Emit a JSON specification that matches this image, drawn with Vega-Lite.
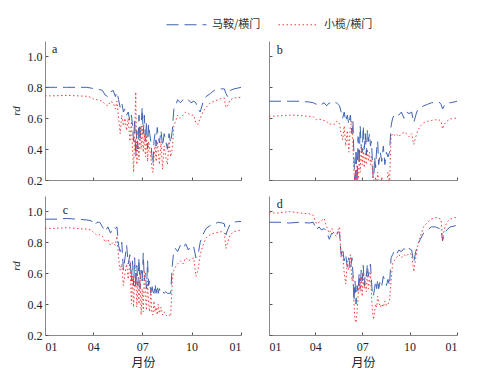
{
  "$schema": "https://vega.github.io/schema/vega-lite/v6.json",
  "padding": {"left": 10, "top": 4, "right": 5, "bottom": 5},
  "config": {
    "font": "Liberation Serif",
    "view": {"stroke": null},
    "axis": {"grid": false, "domainColor": "#888888", "domainWidth": 1, "tickColor": "#555555", "labelColor": "#222222", "labelFont": "Liberation Serif", "labelFontSize": 12, "labelOverlap": false, "titleFontWeight": "normal", "titleColor": "#222222"},
    "legend": {"orient": "none", "legendX": 121, "legendY": -37, "direction": "horizontal", "symbolType": "stroke", "symbolSize": 1600, "symbolStrokeWidth": 1, "labelFont": "Noto Sans CJK SC", "labelFontSize": 11, "labelColor": "#333333", "columnPadding": 15, "labelOffset": 5}
  },
  "data": {"values": [
    {"t":"2013-01-01","am":0.80,"ax":0.745,"bm":0.71,"bx":0.612,"cm":0.95,"cx":0.89,"dm":0.93,"dx":0.99},
    {"t":"2013-01-20","am":0.80,"ax":0.745,"bm":0.71,"bx":0.615,"cm":0.95,"cx":0.89,"dm":0.93,"dx":0.99},
    {"t":"2013-02-10","am":0.80,"ax":0.748,"bm":0.71,"bx":0.62,"cm":0.955,"cx":0.895,"dm":0.925,"dx":1.0},
    {"t":"2013-03-01","am":0.80,"ax":0.745,"bm":0.71,"bx":0.618,"cm":0.95,"cx":0.89,"dm":0.93,"dx":0.99},
    {"t":"2013-03-20","am":0.80,"ax":0.742,"bm":0.705,"bx":0.612,"cm":0.945,"cx":0.885,"dm":0.925,"dx":0.985},
    {"t":"2013-03-28","am":0.795,"ax":0.735,"bm":0.70,"bx":0.61,"cm":0.94,"cx":0.88,"dm":0.93,"dx":0.975},
    {"t":"2013-04-03","am":0.79,"ax":0.72,"bm":0.69,"bx":0.59,"cm":0.91,"cx":0.86,"dm":0.88,"dx":0.92},
    {"t":"2013-04-08","am":0.785,"ax":0.72,"bm":0.70,"bx":0.595,"cm":0.93,"cx":0.845,"dm":0.90,"dx":0.93},
    {"t":"2013-04-13","am":0.785,"ax":0.715,"bm":0.69,"bx":0.59,"cm":0.93,"cx":0.85,"dm":0.88,"dx":0.94},
    {"t":"2013-04-18","am":0.78,"ax":0.71,"bm":0.70,"bx":0.585,"cm":0.90,"cx":0.84,"dm":0.89,"dx":0.955},
    {"t":"2013-04-23","am":0.75,"ax":0.69,"bm":0.68,"bx":0.58,"cm":0.87,"cx":0.80,"dm":0.87,"dx":0.90},
    {"t":"2013-04-28","am":0.74,"ax":0.68,"bm":0.70,"bx":0.56,"cm":0.90,"cx":0.82,"dm":0.82,"dx":0.86},
    {"t":"2013-05-03","am":0.77,"ax":0.71,"bm":0.69,"bx":0.565,"cm":0.86,"cx":0.78,"dm":0.86,"dx":0.89},
    {"t":"2013-05-08","am":0.78,"ax":0.70,"bm":0.70,"bx":0.56,"cm":0.90,"cx":0.80,"dm":0.85,"dx":0.85},
    {"t":"2013-05-12","am":0.74,"ax":0.66,"bm":0.70,"bx":0.58,"cm":0.89,"cx":0.78,"dm":0.84,"dx":0.84},
    {"t":"2013-05-15","am":0.77,"ax":0.71,"bm":0.69,"bx":0.58,"cm":0.90,"cx":0.84,"dm":0.87,"dx":0.88},
    {"t":"2013-05-18","am":0.72,"ax":0.60,"bm":0.68,"bx":0.56,"cm":0.78,"cx":0.70,"dm":0.86,"dx":0.90},
    {"t":"2013-05-21","am":0.67,"ax":0.50,"bm":0.64,"bx":0.50,"cm":0.74,"cx":0.62,"dm":0.72,"dx":0.70},
    {"t":"2013-05-24","am":0.70,"ax":0.62,"bm":0.60,"bx":0.46,"cm":0.80,"cx":0.66,"dm":0.76,"dx":0.74},
    {"t":"2013-05-27","am":0.64,"ax":0.55,"bm":0.64,"bx":0.55,"cm":0.62,"cx":0.52,"dm":0.68,"dx":0.60},
    {"t":"2013-05-30","am":0.66,"ax":0.60,"bm":0.58,"bx":0.42,"cm":0.70,"cx":0.60,"dm":0.72,"dx":0.53},
    {"t":"2013-06-02","am":0.62,"ax":0.52,"bm":0.62,"bx":0.52,"cm":0.78,"cx":0.66,"dm":0.64,"dx":0.68},
    {"t":"2013-06-05","am":0.64,"ax":0.60,"bm":0.56,"bx":0.38,"cm":0.66,"cx":0.56,"dm":0.70,"dx":0.62},
    {"t":"2013-06-08","am":0.58,"ax":0.45,"bm":0.62,"bx":0.55,"cm":0.72,"cx":0.68,"dm":0.62,"dx":0.72},
    {"t":"2013-06-11","am":0.62,"ax":0.58,"bm":0.50,"bx":0.58,"cm":0.55,"cx":0.40,"dm":0.70,"dx":0.55},
    {"t":"2013-06-13","am":0.55,"ax":0.40,"bm":0.58,"bx":0.42,"cm":0.68,"cx":0.58,"dm":0.60,"dx":0.58},
    {"t":"2013-06-15","am":0.45,"ax":0.25,"bm":0.35,"bx":0.25,"cm":0.52,"cx":0.38,"dm":0.42,"dx":0.40},
    {"t":"2013-06-17","am":0.60,"ax":0.50,"bm":0.15,"bx":0.15,"cm":0.70,"cx":0.55,"dm":0.55,"dx":0.30},
    {"t":"2013-06-19","am":0.35,"ax":0.77,"bm":0.40,"bx":0.15,"cm":0.50,"cx":0.62,"dm":0.40,"dx":0.28},
    {"t":"2013-06-21","am":0.52,"ax":0.30,"bm":0.18,"bx":0.30,"cm":0.65,"cx":0.38,"dm":0.52,"dx":0.35},
    {"t":"2013-06-23","am":0.40,"ax":0.45,"bm":0.48,"bx":0.15,"cm":0.52,"cx":0.55,"dm":0.48,"dx":0.45},
    {"t":"2013-06-25","am":0.62,"ax":0.33,"bm":0.30,"bx":0.35,"cm":0.70,"cx":0.40,"dm":0.60,"dx":0.55},
    {"t":"2013-06-27","am":0.45,"ax":0.55,"bm":0.55,"bx":0.25,"cm":0.50,"cx":0.60,"dm":0.50,"dx":0.48},
    {"t":"2013-06-29","am":0.55,"ax":0.40,"bm":0.42,"bx":0.42,"cm":0.62,"cx":0.33,"dm":0.62,"dx":0.58},
    {"t":"2013-07-01","am":0.67,"ax":0.55,"bm":0.38,"bx":0.30,"cm":0.55,"cx":0.50,"dm":0.55,"dx":0.45},
    {"t":"2013-07-03","am":0.50,"ax":0.38,"bm":0.55,"bx":0.40,"cm":0.73,"cx":0.35,"dm":0.65,"dx":0.60},
    {"t":"2013-07-05","am":0.62,"ax":0.50,"bm":0.40,"bx":0.28,"cm":0.55,"cx":0.62,"dm":0.52,"dx":0.50},
    {"t":"2013-07-07","am":0.45,"ax":0.35,"bm":0.50,"bx":0.38,"cm":0.60,"cx":0.45,"dm":0.60,"dx":0.55},
    {"t":"2013-07-09","am":0.58,"ax":0.48,"bm":0.36,"bx":0.30,"cm":0.50,"cx":0.36,"dm":0.58,"dx":0.48},
    {"t":"2013-07-11","am":0.40,"ax":0.32,"bm":0.52,"bx":0.40,"cm":0.68,"cx":0.55,"dm":0.66,"dx":0.62},
    {"t":"2013-07-13","am":0.56,"ax":0.45,"bm":0.45,"bx":0.32,"cm":0.52,"cx":0.40,"dm":0.58,"dx":0.50},
    {"t":"2013-07-15","am":0.50,"ax":0.40,"bm":0.50,"bx":0.38,"cm":0.55,"cx":0.35,"dm":0.62,"dx":0.55},
    {"t":"2013-07-17","am":0.45,"ax":0.35,"bm":0.42,"bx":0.30,"cm":0.47,"cx":0.50,"dm":0.66,"dx":0.60},
    {"t":"2013-07-19","am":0.36,"ax":0.28,"bm":0.45,"bx":0.35,"cm":0.53,"cx":0.34,"dm":0.55,"dx":0.45},
    {"t":"2013-07-21","am":0.30,"ax":0.25,"bm":0.30,"bx":0.25,"cm":0.48,"cx":0.33,"dm":0.45,"dx":0.35},
    {"t":"2013-07-23","am":0.45,"ax":0.35,"bm":0.15,"bx":0.18,"cm":0.47,"cx":0.42,"dm":0.46,"dx":0.30},
    {"t":"2013-07-25","am":0.50,"ax":0.42,"bm":0.35,"bx":0.15,"cm":0.53,"cx":0.35,"dm":0.50,"dx":0.35},
    {"t":"2013-07-27","am":0.42,"ax":0.32,"bm":0.28,"bx":0.22,"cm":0.47,"cx":0.38,"dm":0.55,"dx":0.40},
    {"t":"2013-07-29","am":0.54,"ax":0.45,"bm":0.40,"bx":0.15,"cm":0.52,"cx":0.33,"dm":0.50,"dx":0.38},
    {"t":"2013-07-31","am":0.48,"ax":0.38,"bm":0.45,"bx":0.25,"cm":0.47,"cx":0.40,"dm":0.56,"dx":0.45},
    {"t":"2013-08-02","am":0.44,"ax":0.30,"bm":0.30,"bx":0.18,"cm":0.50,"cx":0.34,"dm":0.50,"dx":0.42},
    {"t":"2013-08-05","am":0.52,"ax":0.45,"bm":0.38,"bx":0.15,"cm":0.47,"cx":0.38,"dm":0.55,"dx":0.38},
    {"t":"2013-08-08","am":0.42,"ax":0.27,"bm":0.32,"bx":0.22,"cm":0.48,"cx":0.33,"dm":0.52,"dx":0.40},
    {"t":"2013-08-11","am":0.50,"ax":0.42,"bm":0.42,"bx":0.15,"cm":0.47,"cx":0.35,"dm":0.58,"dx":0.38},
    {"t":"2013-08-14","am":0.45,"ax":0.35,"bm":0.30,"bx":0.20,"cm":0.48,"cx":0.33,"dm":0.55,"dx":0.42},
    {"t":"2013-08-17","am":0.40,"ax":0.30,"bm":0.38,"bx":0.15,"cm":0.47,"cx":0.32,"dm":0.52,"dx":0.39},
    {"t":"2013-08-20","am":0.50,"ax":0.45,"bm":0.35,"bx":0.25,"cm":0.47,"cx":0.33,"dm":0.56,"dx":0.40},
    {"t":"2013-08-23","am":0.44,"ax":0.35,"bm":0.38,"bx":0.18,"cm":0.47,"cx":0.32,"dm":0.52,"dx":0.42},
    {"t":"2013-08-26","am":0.52,"ax":0.40,"bm":0.55,"bx":0.48,"cm":0.65,"cx":0.55,"dm":0.70,"dx":0.55},
    {"t":"2013-08-29","am":0.66,"ax":0.55,"bm":0.60,"bx":0.50,"cm":0.75,"cx":0.62,"dm":0.72,"dx":0.66},
    {"t":"2013-09-01","am":0.68,"ax":0.58,"bm":0.62,"bx":0.49,"cm":0.76,"cx":0.64,"dm":0.74,"dx":0.68},
    {"t":"2013-09-05","am":0.72,"ax":0.62,"bm":0.63,"bx":0.50,"cm":0.74,"cx":0.66,"dm":0.72,"dx":0.70},
    {"t":"2013-09-10","am":0.70,"ax":0.60,"bm":0.62,"bx":0.48,"cm":0.78,"cx":0.68,"dm":0.75,"dx":0.72},
    {"t":"2013-09-15","am":0.72,"ax":0.62,"bm":0.64,"bx":0.50,"cm":0.76,"cx":0.66,"dm":0.74,"dx":0.70},
    {"t":"2013-09-20","am":0.73,"ax":0.64,"bm":0.60,"bx":0.51,"cm":0.79,"cx":0.70,"dm":0.76,"dx":0.72},
    {"t":"2013-09-25","am":0.72,"ax":0.63,"bm":0.64,"bx":0.50,"cm":0.75,"cx":0.68,"dm":0.74,"dx":0.71},
    {"t":"2013-09-30","am":0.70,"ax":0.62,"bm":0.63,"bx":0.48,"cm":0.78,"cx":0.69,"dm":0.76,"dx":0.73},
    {"t":"2013-10-05","am":0.71,"ax":0.62,"bm":0.64,"bx":0.50,"cm":0.77,"cx":0.70,"dm":0.75,"dx":0.72},
    {"t":"2013-10-09","am":0.70,"ax":0.57,"bm":0.57,"bx":0.43,"cm":0.70,"cx":0.58,"dm":0.67,"dx":0.61},
    {"t":"2013-10-13","am":0.66,"ax":0.56,"bm":0.62,"bx":0.48,"cm":0.72,"cx":0.62,"dm":0.74,"dx":0.70},
    {"t":"2013-10-17","am":0.64,"ax":0.60,"bm":0.66,"bx":0.52,"cm":0.80,"cx":0.72,"dm":0.79,"dx":0.78},
    {"t":"2013-10-22","am":0.70,"ax":0.64,"bm":0.67,"bx":0.55,"cm":0.85,"cx":0.78,"dm":0.82,"dx":0.84},
    {"t":"2013-10-28","am":0.74,"ax":0.67,"bm":0.68,"bx":0.57,"cm":0.89,"cx":0.83,"dm":0.86,"dx":0.90},
    {"t":"2013-11-05","am":0.76,"ax":0.70,"bm":0.69,"bx":0.58,"cm":0.91,"cx":0.85,"dm":0.88,"dx":0.93},
    {"t":"2013-11-12","am":0.78,"ax":0.71,"bm":0.70,"bx":0.585,"cm":0.92,"cx":0.86,"dm":0.90,"dx":0.95},
    {"t":"2013-11-20","am":0.79,"ax":0.72,"bm":0.70,"bx":0.59,"cm":0.93,"cx":0.865,"dm":0.90,"dx":0.96},
    {"t":"2013-11-27","am":0.79,"ax":0.73,"bm":0.705,"bx":0.59,"cm":0.925,"cx":0.87,"dm":0.89,"dx":0.955},
    {"t":"2013-12-01","am":0.79,"ax":0.73,"bm":0.69,"bx":0.58,"cm":0.92,"cx":0.86,"dm":0.89,"dx":0.95},
    {"t":"2013-12-04","am":0.76,"ax":0.67,"bm":0.66,"bx":0.53,"cm":0.85,"cx":0.76,"dm":0.81,"dx":0.81},
    {"t":"2013-12-07","am":0.74,"ax":0.68,"bm":0.68,"bx":0.56,"cm":0.88,"cx":0.80,"dm":0.85,"dx":0.88},
    {"t":"2013-12-12","am":0.78,"ax":0.72,"bm":0.70,"bx":0.58,"cm":0.92,"cx":0.85,"dm":0.88,"dx":0.93},
    {"t":"2013-12-19","am":0.79,"ax":0.73,"bm":0.70,"bx":0.595,"cm":0.93,"cx":0.87,"dm":0.90,"dx":0.95},
    {"t":"2013-12-26","am":0.795,"ax":0.735,"bm":0.705,"bx":0.60,"cm":0.935,"cx":0.875,"dm":0.905,"dx":0.96},
    {"t":"2014-01-01","am":0.80,"ax":0.735,"bm":0.71,"bx":0.60,"cm":0.935,"cx":0.88,"dm":0.91,"dx":0.96}
  ]},
  "columns": 2,
  "bounds": "flush",
  "spacing": {"row": 16, "column": 28},
  "concat": [
    {
      "width": 196, "height": 139,
      "layer": [
        {"mark": {"type": "line", "clip": true, "strokeWidth": 1}, "encoding": {"x": {"field": "t", "type": "temporal", "scale": {"type": "utc", "domain": [{"year": 2013, "month": 1, "date": 1, "utc": true}, {"year": 2014, "month": 1, "date": 1, "utc": true}]}, "axis": {"values": [{"year": 2013, "month": 1, "date": 1, "utc": true}, {"year": 2013, "month": 4, "date": 1, "utc": true}, {"year": 2013, "month": 7, "date": 1, "utc": true}, {"year": 2013, "month": 10, "date": 1, "utc": true}, {"year": 2014, "month": 1, "date": 1, "utc": true}], "labels": false, "tickSize": -3, "title": null}}, "y": {"field": "am", "type": "quantitative", "scale": {"domain": [0.2, 1.1], "nice": false, "zero": false}, "axis": {"tickCount": 5, "format": ".1f", "labelOverlap": false, "tickSize": -3, "labelPadding": 6, "title": "rd", "titleFontStyle": "italic", "titleFontSize": 11, "titlePadding": 6}}, "color": {"datum": "马鞍/横门", "scale": {"domain": ["马鞍/横门", "小榄/横门"], "range": ["#3F62B0", "#F03C3C"]}, "title": null}, "strokeDash": {"datum": "马鞍/横门", "scale": {"domain": ["马鞍/横门", "小榄/横门"], "range": [[12, 6], [1.5, 2.5]]}, "title": null}}},
        {"mark": {"type": "line", "clip": true, "strokeWidth": 1}, "encoding": {"x": {"field": "t", "type": "temporal"}, "y": {"field": "ax", "type": "quantitative"}, "color": {"datum": "小榄/横门", "title": null}, "strokeDash": {"datum": "小榄/横门", "title": null}}},
        {"transform": [{"aggregate": [{"op": "count", "as": "n"}]}], "mark": {"type": "text", "align": "left", "baseline": "middle", "fontSize": 12, "color": "#222222"}, "encoding": {"x": {"datum": {"year": 2013, "month": 1, "date": 14, "utc": true}, "type": "temporal"}, "y": {"datum": 1.05, "type": "quantitative"}, "text": {"value": "a"}}}
      ]
    },
    {
      "width": 188, "height": 139,
      "layer": [
        {"mark": {"type": "line", "clip": true, "strokeWidth": 1}, "encoding": {"x": {"field": "t", "type": "temporal", "scale": {"type": "utc", "domain": [{"year": 2013, "month": 1, "date": 1, "utc": true}, {"year": 2014, "month": 1, "date": 1, "utc": true}]}, "axis": {"values": [{"year": 2013, "month": 1, "date": 1, "utc": true}, {"year": 2013, "month": 4, "date": 1, "utc": true}, {"year": 2013, "month": 7, "date": 1, "utc": true}, {"year": 2013, "month": 10, "date": 1, "utc": true}, {"year": 2014, "month": 1, "date": 1, "utc": true}], "labels": false, "tickSize": -3, "title": null}}, "y": {"field": "bm", "type": "quantitative", "scale": {"domain": [0.2, 1.1], "nice": false, "zero": false}, "axis": {"tickCount": 5, "labels": false, "tickSize": -3, "title": null}}, "color": {"datum": "马鞍/横门", "title": null}, "strokeDash": {"datum": "马鞍/横门", "title": null}}},
        {"mark": {"type": "line", "clip": true, "strokeWidth": 1}, "encoding": {"x": {"field": "t", "type": "temporal"}, "y": {"field": "bx", "type": "quantitative"}, "color": {"datum": "小榄/横门", "title": null}, "strokeDash": {"datum": "小榄/横门", "title": null}}},
        {"transform": [{"aggregate": [{"op": "count", "as": "n"}]}], "mark": {"type": "text", "align": "left", "baseline": "middle", "fontSize": 12, "color": "#222222"}, "encoding": {"x": {"datum": {"year": 2013, "month": 1, "date": 16, "utc": true}, "type": "temporal"}, "y": {"datum": 1.04, "type": "quantitative"}, "text": {"value": "b"}}}
      ]
    },
    {
      "width": 196, "height": 139,
      "layer": [
        {"mark": {"type": "line", "clip": true, "strokeWidth": 1}, "encoding": {"x": {"field": "t", "type": "temporal", "scale": {"type": "utc", "domain": [{"year": 2013, "month": 1, "date": 1, "utc": true}, {"year": 2014, "month": 1, "date": 1, "utc": true}]}, "axis": {"values": [{"year": 2013, "month": 1, "date": 1, "utc": true}, {"year": 2013, "month": 4, "date": 1, "utc": true}, {"year": 2013, "month": 7, "date": 1, "utc": true}, {"year": 2013, "month": 10, "date": 1, "utc": true}, {"year": 2014, "month": 1, "date": 1, "utc": true}], "format": "%m", "tickSize": -3, "labelPadding": 9, "title": "月份", "titleFont": "Noto Sans CJK SC", "titleFontSize": 12, "titlePadding": 5}}, "y": {"field": "cm", "type": "quantitative", "scale": {"domain": [0.2, 1.1], "nice": false, "zero": false}, "axis": {"tickCount": 5, "format": ".1f", "labelOverlap": false, "tickSize": -3, "labelPadding": 6, "title": "rd", "titleFontStyle": "italic", "titleFontSize": 11, "titlePadding": 6}}, "color": {"datum": "马鞍/横门", "title": null}, "strokeDash": {"datum": "马鞍/横门", "title": null}}},
        {"mark": {"type": "line", "clip": true, "strokeWidth": 1}, "encoding": {"x": {"field": "t", "type": "temporal"}, "y": {"field": "cx", "type": "quantitative"}, "color": {"datum": "小榄/横门", "title": null}, "strokeDash": {"datum": "小榄/横门", "title": null}}},
        {"transform": [{"aggregate": [{"op": "count", "as": "n"}]}], "mark": {"type": "text", "align": "left", "baseline": "middle", "fontSize": 12, "color": "#222222"}, "encoding": {"x": {"datum": {"year": 2013, "month": 2, "date": 3, "utc": true}, "type": "temporal"}, "y": {"datum": 1.01, "type": "quantitative"}, "text": {"value": "c"}}}
      ]
    },
    {
      "width": 188, "height": 139,
      "layer": [
        {"mark": {"type": "line", "clip": true, "strokeWidth": 1}, "encoding": {"x": {"field": "t", "type": "temporal", "scale": {"type": "utc", "domain": [{"year": 2013, "month": 1, "date": 1, "utc": true}, {"year": 2014, "month": 1, "date": 1, "utc": true}]}, "axis": {"values": [{"year": 2013, "month": 1, "date": 1, "utc": true}, {"year": 2013, "month": 4, "date": 1, "utc": true}, {"year": 2013, "month": 7, "date": 1, "utc": true}, {"year": 2013, "month": 10, "date": 1, "utc": true}, {"year": 2014, "month": 1, "date": 1, "utc": true}], "format": "%m", "tickSize": -3, "labelPadding": 9, "title": "月份", "titleFont": "Noto Sans CJK SC", "titleFontSize": 12, "titlePadding": 5}}, "y": {"field": "dm", "type": "quantitative", "scale": {"domain": [0.2, 1.1], "nice": false, "zero": false}, "axis": {"tickCount": 5, "labels": false, "tickSize": -3, "title": null}}, "color": {"datum": "马鞍/横门", "title": null}, "strokeDash": {"datum": "马鞍/横门", "title": null}}},
        {"mark": {"type": "line", "clip": true, "strokeWidth": 1}, "encoding": {"x": {"field": "t", "type": "temporal"}, "y": {"field": "dx", "type": "quantitative"}, "color": {"datum": "小榄/横门", "title": null}, "strokeDash": {"datum": "小榄/横门", "title": null}}},
        {"transform": [{"aggregate": [{"op": "count", "as": "n"}]}], "mark": {"type": "text", "align": "left", "baseline": "middle", "fontSize": 12, "color": "#222222"}, "encoding": {"x": {"datum": {"year": 2013, "month": 1, "date": 16, "utc": true}, "type": "temporal"}, "y": {"datum": 1.05, "type": "quantitative"}, "text": {"value": "d"}}}
      ]
    }
  ]
}
